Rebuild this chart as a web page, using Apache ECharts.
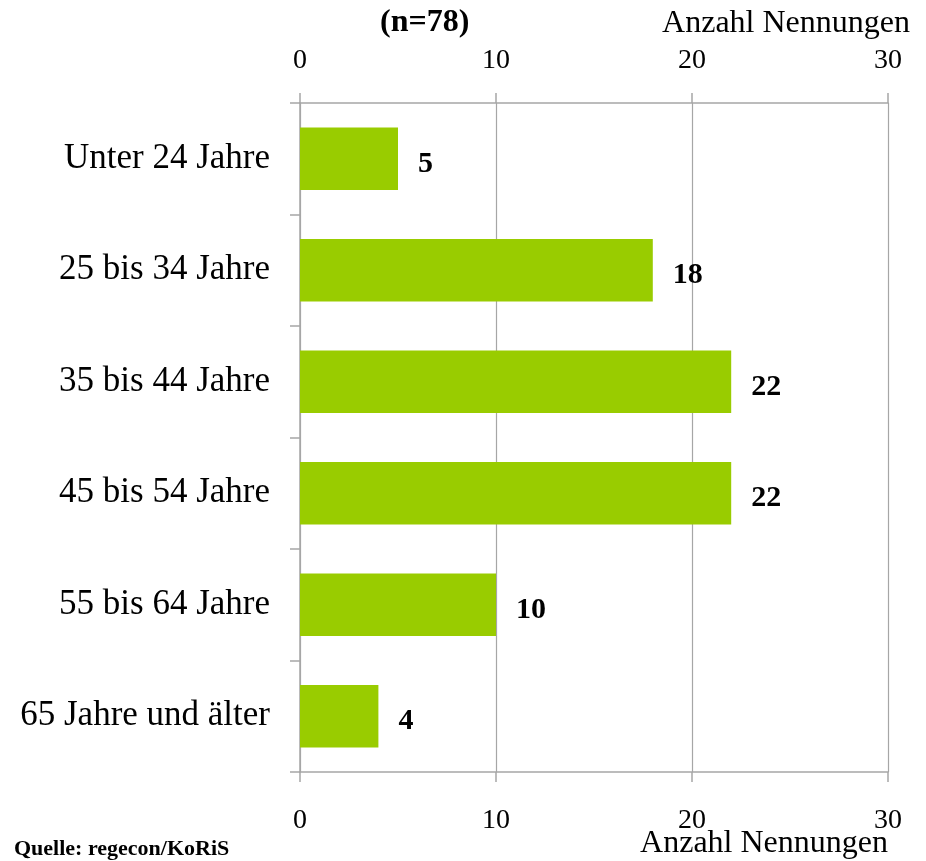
<!DOCTYPE html>
<html><head><meta charset="utf-8">
<script src="https://cdn.jsdelivr.net/npm/echarts@6/dist/echarts.min.js"></script>
<style>html,body{margin:0;padding:0;background:#fff}#c{width:926px;height:861px}</style>
</head><body><div id="c"></div>
<script>
const categories = ["Unter 24 Jahre","25 bis 34 Jahre","35 bis 44 Jahre","45 bis 54 Jahre","55 bis 64 Jahre","65 Jahre und älter"];
const values = [5,18,22,22,10,4];
const axisTicks = [0,10,20,30];
const F = "Liberation Serif";
const chart = echarts.init(document.getElementById('c'));
const gray = '#a6a6a6';
chart.setOption({
  animation:false,
  textStyle:{fontFamily:F,color:'#000'},
  grid:{left:300,right:38,top:103,bottom:89},
  xAxis:[
    {type:'value',position:'top',min:axisTicks[0],max:axisTicks[axisTicks.length-1],interval:10,
     axisLine:{show:true,lineStyle:{color:gray,width:1.5}},
     axisTick:{show:true,length:10,lineStyle:{color:gray,width:1.5}},
     axisLabel:{margin:28,fontFamily:F,fontSize:28,color:'#000'},
     splitLine:{show:true,lineStyle:{color:gray,width:1.2}}},
    {type:'value',position:'bottom',min:axisTicks[0],max:axisTicks[axisTicks.length-1],interval:10,
     axisLine:{show:true,lineStyle:{color:gray,width:1.5}},
     axisTick:{show:true,length:10,lineStyle:{color:gray,width:1.5}},
     axisLabel:{margin:35,fontFamily:F,fontSize:28,color:'#000'},
     splitLine:{show:false}}
  ],
  yAxis:{type:'category',data:categories,inverse:true,
     axisLine:{show:true,lineStyle:{color:gray,width:1.5}},
     axisTick:{show:true,length:10,lineStyle:{color:gray,width:1.5}},
     axisLabel:{margin:30,fontFamily:F,fontSize:35,color:'#000'}},
  series:[{type:'bar',xAxisIndex:0,data:values,barCategoryGap:'44%',
     itemStyle:{color:'#99cc00'},
     label:{show:true,position:'right',distance:20,fontFamily:F,fontWeight:'bold',fontSize:30,color:'#000',offset:[0,5]}}],
  graphic:[
    {type:'text',left:380,top:7,style:{text:'(n=78)',font:'bold 32px "Liberation Serif"',fill:'#000'}},
    {type:'text',right:16,top:8,style:{text:'Anzahl Nennungen',font:'32px "Liberation Serif"',fill:'#000'}},
    {type:'text',right:38,top:828,style:{text:'Anzahl Nennungen',font:'32px "Liberation Serif"',fill:'#000'}},
    {type:'text',left:14,top:838,style:{text:'Quelle: regecon/KoRiS',font:'bold 22px "Liberation Serif"',fill:'#000'}}
  ]
});
</script></body></html>
